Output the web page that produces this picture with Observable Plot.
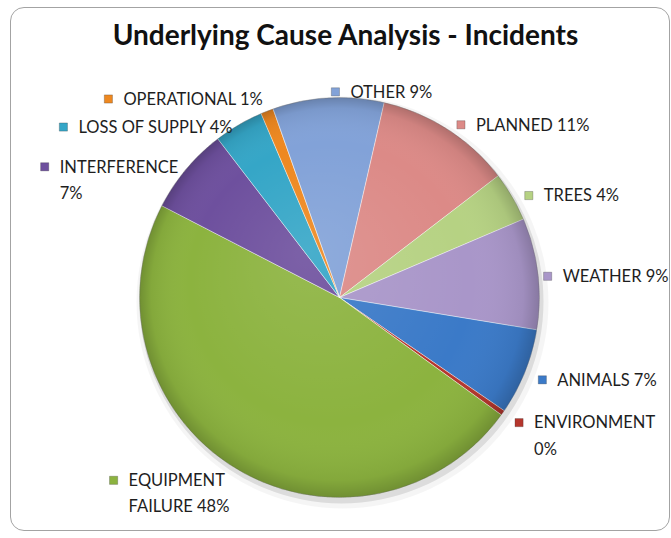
<!DOCTYPE html>
<html>
<head>
<meta charset="utf-8">
<script src="https://cdn.jsdelivr.net/npm/d3@7"></script>
<script src="https://cdn.jsdelivr.net/npm/@observablehq/plot@0.6"></script>
<style>
  html, body { margin: 0; padding: 0; background: #fff; }
  #wrap { position: relative; width: 671px; height: 538px; overflow: hidden; font-family: Lato, "Open Sans", sans-serif; }
  #card { position: absolute; left: 10px; top: 7px; width: 660px; height: 524px; border: 1.5px solid #a3a3a3; border-radius: 14px; box-sizing: border-box; }
  #title { position: absolute; left: 10px; width: 671px; top: 17px; text-align: center; font-weight: 700; font-size: 28px; line-height: 34px; color: #111; z-index: 3; }
  #chart { position: absolute; left: 0; top: 0; z-index: 2; }
</style>
</head>
<body>
<div id="wrap">
  <div id="card"></div>
  <div id="title">Underlying Cause Analysis - Incidents</div>
  <div id="chart"></div>
</div>
<script>
// ---- data (clockwise from the first slice) ----
const causes = ["OTHER", "PLANNED", "TREES", "WEATHER", "ANIMALS", "ENVIRONMENT", "EQUIPMENT FAILURE", "INTERFERENCE", "LOSS OF SUPPLY", "OPERATIONAL"];
const shares = [9, 11, 4, 9, 7, 0.4, 47.6, 7, 4, 1];
const labels = ["OTHER 9%", "PLANNED 11%", "TREES 4%", "WEATHER 9%", "ANIMALS 7%", "ENVIRONMENT\n0%", "EQUIPMENT\nFAILURE 48%", "INTERFERENCE\n7%", "LOSS OF SUPPLY 4%", "OPERATIONAL 1%"];
const palette = ["#82a2d8", "#dc8a87", "#b6d283", "#a996c9", "#3b7ac8", "#b5362d", "#8cb33f", "#6e509e", "#35a6c7", "#ee8820"];

// ---- layout ----
const W = 671, H = 538;
const CX = 339, CY = 297, R = 200;
const FIRST_ANGLE = -19.5 * Math.PI / 180;
const FS = 16.5, LH = 1.6, LABEL_R = 1.05;

const arcs = d3.pie().sort(null).value(d => d)
  .startAngle(FIRST_ANGLE).endAngle(FIRST_ANGLE + 2 * Math.PI)(shares);

// slice outlines in data space (unit circle), y up
const slicePts = [];
arcs.forEach((a, i) => {
  const name = causes[i];
  slicePts.push({name, x: 0, y: 0});
  const n = Math.max(2, Math.ceil((a.endAngle - a.startAngle) / (Math.PI / 360)));
  for (let k = 0; k <= n; k++) {
    const t = a.startAngle + (a.endAngle - a.startAngle) * k / n;
    slicePts.push({name, x: Math.sin(t), y: Math.cos(t)});
  }
});

// label placement from slice mid-angles, with simple vertical de-overlap
const ctx = document.createElement("canvas").getContext("2d");
ctx.font = `${FS}px Lato`;
const lab = arcs.map((a, i) => {
  const m = (a.startAngle + a.endAngle) / 2;
  const lines = labels[i].split("\n");
  return {
    i, m, lines,
    right: Math.sin(m) >= -0.1,
    px: CX + LABEL_R * R * Math.sin(m),
    py: CY - LABEL_R * R * Math.cos(m) + 4,
    w: d3.max(lines, l => ctx.measureText(l).width)
  };
});
for (const side of [true, false]) {
  const group = lab.filter(d => d.right === side).sort((a, b) => a.py - b.py);
  for (let iter = 0; iter < 50; iter++) {
    for (let k = 1; k < group.length; k++) {
      const up = group[k - 1], dn = group[k];
      const need = (up.lines.length - 1) * LH * FS + FS * 1.7;
      const gap = dn.py - up.py;
      if (gap < need) { const s = (need - gap) / 2; up.py -= s; dn.py += s; }
    }
  }
}
const labelData = lab.map(d => {
  let sq, tx;
  if (d.right) { sq = d.px + 8; tx = sq + 15; }
  else { tx = d.px - d.w; sq = tx - 15; }
  const over = tx + d.w - (W - 3);          // keep text inside the page
  if (over > 0) { tx -= over; sq -= over; }
  return {name: causes[d.i], label: labels[d.i], sx: (sq - CX) / R, tx: (tx - CX) / R, y: (CY - d.py) / R};
});

const plot = Plot.plot({
  width: W, height: H,
  marginLeft: CX - R, marginRight: W - (CX + R),
  marginTop: CY - R, marginBottom: H - (CY + R),
  x: {domain: [-1, 1], axis: null},
  y: {domain: [-1, 1], axis: null},
  color: {domain: causes, range: palette},
  style: {background: "transparent", overflow: "visible"},
  marks: [
    // soft shadow
    Plot.dot([{x: 0, y: 0}], {x: "x", y: "y", r: R + 6, fill: "#000", fillOpacity: 0.04, stroke: "none", dx: 3, dy: 5}),
    Plot.dot([{x: 0, y: 0}], {x: "x", y: "y", r: R + 2, fill: "#000", fillOpacity: 0.10, stroke: "none", dx: 2, dy: 4}),
    // slices
    Plot.line(slicePts, {x: "x", y: "y", z: "name", fill: "name", stroke: "#ffffff", strokeOpacity: 0.5, strokeWidth: 1, curve: "linear-closed"}),
    // shading overlay
    Plot.dot([{x: 0, y: 0}], {x: "x", y: "y", r: R, fill: "url(#pieShade)", stroke: "#000", strokeOpacity: 0.2, strokeWidth: 1}),
    // legend keys
    Plot.dot(labelData, {x: "sx", y: "y", symbol: "square", r: 4.6, fill: "name", stroke: "#333", strokeOpacity: 0.35, strokeWidth: 0.8}),
    // label text
    Plot.text(labelData, {x: "tx", y: "y", text: "label", textAnchor: "start", lineAnchor: "top", dy: -Math.round((0.71 * LH - 0.36) * FS), lineHeight: LH, fontSize: FS, fontFamily: "Lato", fill: "#1e1e1e"})
  ]
});

// gradient definition used by the shading overlay
const ns = "http://www.w3.org/2000/svg";
const defs = document.createElementNS(ns, "defs");
const g = document.createElementNS(ns, "radialGradient");
g.setAttribute("id", "pieShade");
g.setAttribute("cx", "50%"); g.setAttribute("cy", "50%"); g.setAttribute("r", "50%");
g.setAttribute("fx", "42%"); g.setAttribute("fy", "38%");
[["0%", "#ffffff", 0.10], ["70%", "#ffffff", 0.0], ["93%", "#000000", 0.06], ["100%", "#000000", 0.20]].forEach(([o, c, op]) => {
  const s = document.createElementNS(ns, "stop");
  s.setAttribute("offset", o); s.setAttribute("stop-color", c); s.setAttribute("stop-opacity", op);
  g.appendChild(s);
});
defs.appendChild(g);
plot.insertBefore(defs, plot.firstChild);

document.getElementById("chart").appendChild(plot);
</script>
</body>
</html>
